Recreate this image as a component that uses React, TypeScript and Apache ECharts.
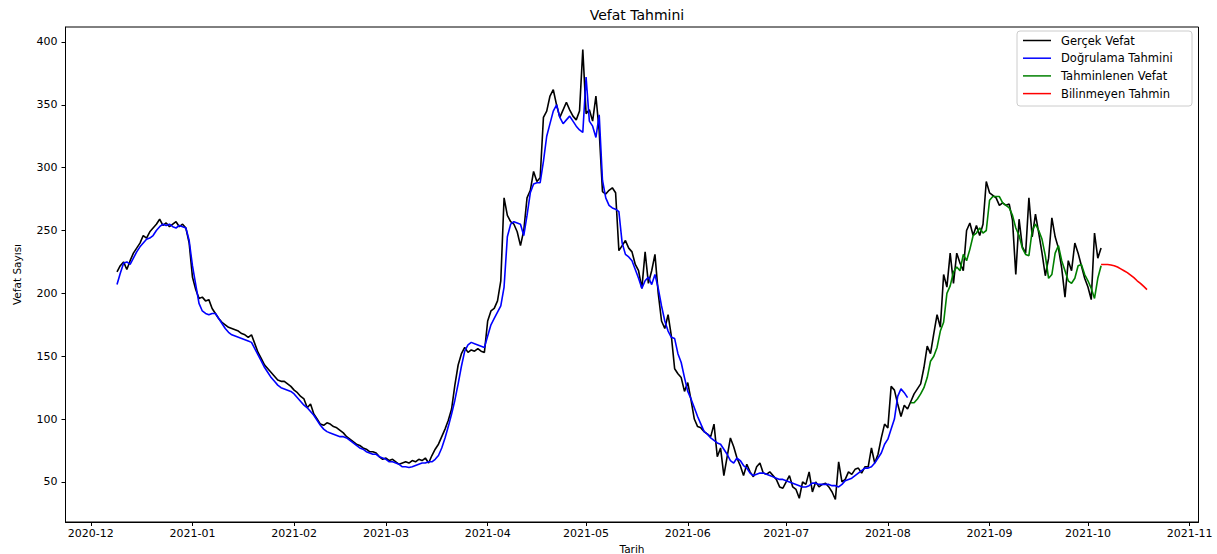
import React, { useEffect, useRef } from 'react';
import * as echarts from 'echarts';

// Daily series (start dates + values)
const GERCEK_START = '2020-12-09';
const gercekVefat = [
  217, 222, 225, 219, 226, 232, 236, 240, 246, 244,
  249, 252, 255, 259, 254, 256, 253, 255, 257, 253,
  255, 252, 240, 213, 203, 196, 197, 194, 195, 188,
  184, 180, 177, 175, 173, 172, 171, 170, 168, 167,
  165, 167, 160, 153, 148, 143, 140, 137, 134, 131,
  130, 130, 128, 126, 123, 121, 118, 116, 109, 112,
  104, 100, 96, 95, 97, 96, 94, 93, 91, 89,
  86, 84, 82, 80, 79, 77, 76, 74, 74, 73,
  70, 68, 69, 67, 68, 66, 64, 65, 66, 65,
  67, 66, 68, 67, 69, 65, 71, 76, 80, 86,
  92, 99, 108, 127, 143, 152, 157, 153, 155, 154,
  156, 154, 153, 178, 186, 188, 194, 210, 276, 262,
  257, 255, 249, 238, 250, 276, 282, 297, 289, 292,
  340, 345, 357, 362, 350, 340, 346, 352, 346, 341,
  338, 345, 394, 343, 346, 337, 357, 329, 281, 279,
  282, 284, 280, 234, 238, 242, 236, 233, 223, 218,
  204, 233, 208, 218, 231, 200, 178, 172, 183, 166,
  140, 136, 133, 122, 129, 115, 100, 94, 93, 90,
  88, 86, 96, 70, 77, 55, 70, 85, 78, 69,
  63, 55, 64, 58, 54, 62, 65, 57, 56, 58,
  55, 52, 46, 45, 50, 55, 46, 44, 37, 50,
  48, 58, 42, 50, 46, 48, 49, 46, 42, 36,
  66, 50, 52, 58, 56, 60, 61, 57, 62, 62,
  77, 65, 72, 85, 96, 93, 126, 123, 112, 102,
  111, 108, 114, 120, 124, 128, 141, 158, 152, 168,
  183, 173, 215, 205, 232, 208, 232, 224, 218, 250,
  256, 246, 254, 246, 255, 289, 280, 278, 276, 270,
  272, 270, 271, 258, 215, 259, 237, 232, 276, 245,
  263, 248, 232, 214, 228, 260, 245, 236, 220, 197,
  226, 218, 240, 232, 222, 212, 205, 195, 248, 228,
  236,
];

const DOGRULAMA_START = '2020-12-09';
const dogrulamaTahmini = [
  207, 216, 224, 225, 223, 228, 233, 237, 240, 243,
  244, 246, 250, 253, 255, 254, 255, 253, 252, 254,
  253, 252, 242, 222, 207, 192, 186, 184, 183, 184,
  184, 180, 176, 172, 169, 167, 166, 165, 164, 163,
  162, 161, 156, 151, 146, 141, 137, 133, 130, 127,
  125, 124, 123, 122, 120, 117, 114, 111, 109, 106,
  103, 99, 95, 92, 90, 89, 88, 87, 86, 86,
  85, 83, 81, 79, 77, 76, 74, 73, 72, 72,
  70, 69, 68, 66, 66, 65, 64, 62, 62, 61.5,
  62, 63, 64, 65, 65, 66, 66, 68, 71, 77,
  85, 94, 104, 115, 128, 142, 154, 159, 161, 160,
  159, 158, 157, 166, 175, 180, 185, 190, 205, 245,
  255, 257, 256, 255, 246, 262, 280, 287, 288, 288,
  305, 325, 335, 345, 350, 340, 335, 338, 341, 337,
  333, 330, 328, 372, 337, 333, 324, 342, 290, 276,
  270, 268, 267, 265, 240, 231, 229, 226, 219, 212,
  204, 210, 213, 207, 215, 204, 190, 178, 170, 165,
  164, 152, 145, 133, 122, 116, 109, 102, 96, 90,
  88, 85, 83, 81, 80, 76, 72, 67, 65, 69,
  67, 63, 61, 57, 55, 56, 57, 57, 56, 55,
  54, 53, 52, 52, 51, 50, 49, 48, 47, 46,
  46, 47, 49, 49, 48, 48, 48, 48, 47, 47,
  46, 48, 51, 52, 53, 55, 57, 59, 61, 61,
  62, 65, 69, 73, 80, 84, 92, 100, 118, 124,
  121, 117,
];

const TAHMINLENEN_START = '2021-08-08';
const tahminlenenVefat = [
  113, 113, 116, 120, 125, 133, 146, 150, 157, 170,
  177, 200, 206, 217, 221, 218, 231, 226, 235, 246,
  248, 252, 248, 250, 274, 277, 277, 277, 272, 270,
  268, 262, 252, 246, 236, 231, 230, 250, 255, 250,
  243, 230, 212, 215, 232, 238, 226, 218, 210, 208,
  212, 222, 223, 215, 210, 204, 196, 212, 222,
];

const BILINMEYEN_START = '2021-10-05';
const bilinmeyenTahmin = [
  223, 223, 223, 222.5, 222, 221, 219.5, 218, 216.5, 214.5,
  212.5, 210, 208, 205.5, 203,
];

const X_TICKS = [
  '2020-12', '2021-01', '2021-02', '2021-03', '2021-04', '2021-05',
  '2021-06', '2021-07', '2021-08', '2021-09', '2021-10', '2021-11',
];
const Y_TICKS = [50, 100, 150, 200, 250, 300, 350, 400];

const LEGEND_NAMES = ['Gerçek Vefat', 'Doğrulama Tahmini', 'Tahminlenen Vefat', 'Bilinmeyen Tahmin'];
const COLORS = ['#000000', '#0000ff', '#008000', '#ff0000'];

const FONT = "'DejaVu Sans', sans-serif";

function parseYMD(s: string, addDays = 0): number {
  const p = s.split('-').map(Number);
  return Date.UTC(p[0], p[1] - 1, (p[2] || 1) + addDays);
}

function toPairs(start: string, vals: number[]) {
  return vals.map((v, i) => [parseYMD(start, i), v]);
}

export default function App() {
  const ref = useRef<HTMLDivElement>(null);

  useEffect(() => {
    if (!ref.current) return;
    const chart = echarts.init(ref.current, undefined, { renderer: 'svg' });

    const seriesData = [
      toPairs(GERCEK_START, gercekVefat),
      toPairs(DOGRULAMA_START, dogrulamaTahmini),
      toPairs(TAHMINLENEN_START, tahminlenenVefat),
      toPairs(BILINMEYEN_START, bilinmeyenTahmin),
    ];

    let xMin = Infinity, xMax = -Infinity, yMin = Infinity, yMax = -Infinity;
    seriesData.forEach((arr) =>
      arr.forEach(([x, y]) => {
        xMin = Math.min(xMin, x); xMax = Math.max(xMax, x);
        yMin = Math.min(yMin, y); yMax = Math.max(yMax, y);
      })
    );
    const xPad = (xMax - xMin) * 0.05;
    const yPad = (yMax - yMin) * 0.05;

    const xTickValues = X_TICKS.map((s) => parseYMD(s));
    const xLabelMap: Record<string, string> = {};
    X_TICKS.forEach((s, i) => { xLabelMap[String(xTickValues[i])] = s; });

    const gridLeft = 65.5;
    const gridRight = 18.5;
    const gridTop = 27;
    const gridBottom = 32;

    // legend (matplotlib style)
    const lgX = 1017, lgY = 31, lgW = 175, lgH = 75;
    const rowY = [40.5, 58.2, 75.9, 93.6];
    const legendEls: any[] = [
      {
        type: 'rect',
        shape: { x: lgX, y: lgY, width: lgW, height: lgH, r: 3 },
        style: { fill: 'rgba(255,255,255,0.8)', stroke: '#cccccc', lineWidth: 1 },
        z: 100,
      },
    ];
    LEGEND_NAMES.forEach((name, i) => {
      legendEls.push({
        type: 'line',
        shape: { x1: 1023, y1: rowY[i], x2: 1051, y2: rowY[i] },
        style: { stroke: COLORS[i], lineWidth: 1.5 },
        z: 101,
      });
      legendEls.push({
        type: 'text',
        x: 1061,
        y: rowY[i],
        style: {
          text: name,
          fill: '#000',
          font: `11.5px ${FONT}`,
          verticalAlign: 'middle',
        },
        z: 101,
      });
    });

    chart.setOption({
      animation: false,
      backgroundColor: '#ffffff',
      title: {
        text: 'Vefat Tahmini',
        left: 632,
        textAlign: 'center',
        top: 3,
        textStyle: { fontFamily: FONT, fontSize: 14, fontWeight: 'normal', color: '#000' },
      },
      grid: {
        left: gridLeft,
        right: gridRight,
        top: gridTop,
        bottom: gridBottom,
        containLabel: false,
        outerBoundsMode: 'none',
        show: true,
        borderColor: '#000',
        borderWidth: 1,
        backgroundColor: 'transparent',
      },
      xAxis: {
        type: 'value',
        min: xMin - xPad,
        max: xMax + xPad,
        name: 'Tarih',
        nameLocation: 'middle',
        nameGap: 18,
        nameTextStyle: { fontFamily: FONT, fontSize: 10.5, color: '#000' },
        axisLine: { show: true, onZero: false, lineStyle: { color: '#000', width: 1 } },
        axisTick: {
          show: true,
          inside: false,
          length: 4,
          lineStyle: { color: '#000' },
          customValues: xTickValues,
        },
        axisLabel: {
          fontFamily: FONT,
          fontSize: 11,
          color: '#000',
          margin: 6,
          customValues: xTickValues,
          formatter: (v: number) => xLabelMap[String(v)] || '',
        },
        splitLine: { show: false },
      },
      yAxis: {
        type: 'value',
        min: yMin - yPad,
        max: yMax + yPad,
        name: 'Vefat Sayısı',
        nameLocation: 'middle',
        nameGap: 43,
        nameRotate: 90,
        nameTextStyle: { fontFamily: FONT, fontSize: 10.5, color: '#000' },
        axisLine: { show: true, onZero: false, lineStyle: { color: '#000', width: 1 } },
        axisTick: {
          show: true,
          inside: false,
          length: 4,
          lineStyle: { color: '#000' },
          customValues: Y_TICKS,
        },
        axisLabel: {
          fontFamily: FONT,
          fontSize: 11,
          color: '#000',
          margin: 8,
          customValues: Y_TICKS,
        },
        splitLine: { show: false },
      },
      series: LEGEND_NAMES.map((name, i) => ({
        name,
        type: 'line',
        data: seriesData[i],
        showSymbol: false,
        symbol: 'none',
        lineStyle: { color: COLORS[i], width: 1.6 },
        itemStyle: { color: COLORS[i] },
        emphasis: { disabled: true },
        silent: true,
        z: 2 + i,
      })),
      graphic: legendEls,
    });

    return () => chart.dispose();
  }, []);

  return (
    <div
      ref={ref}
      style={{ position: 'fixed', left: 0, top: 0, width: 1217, height: 554, background: '#fff' }}
    />
  );
}
